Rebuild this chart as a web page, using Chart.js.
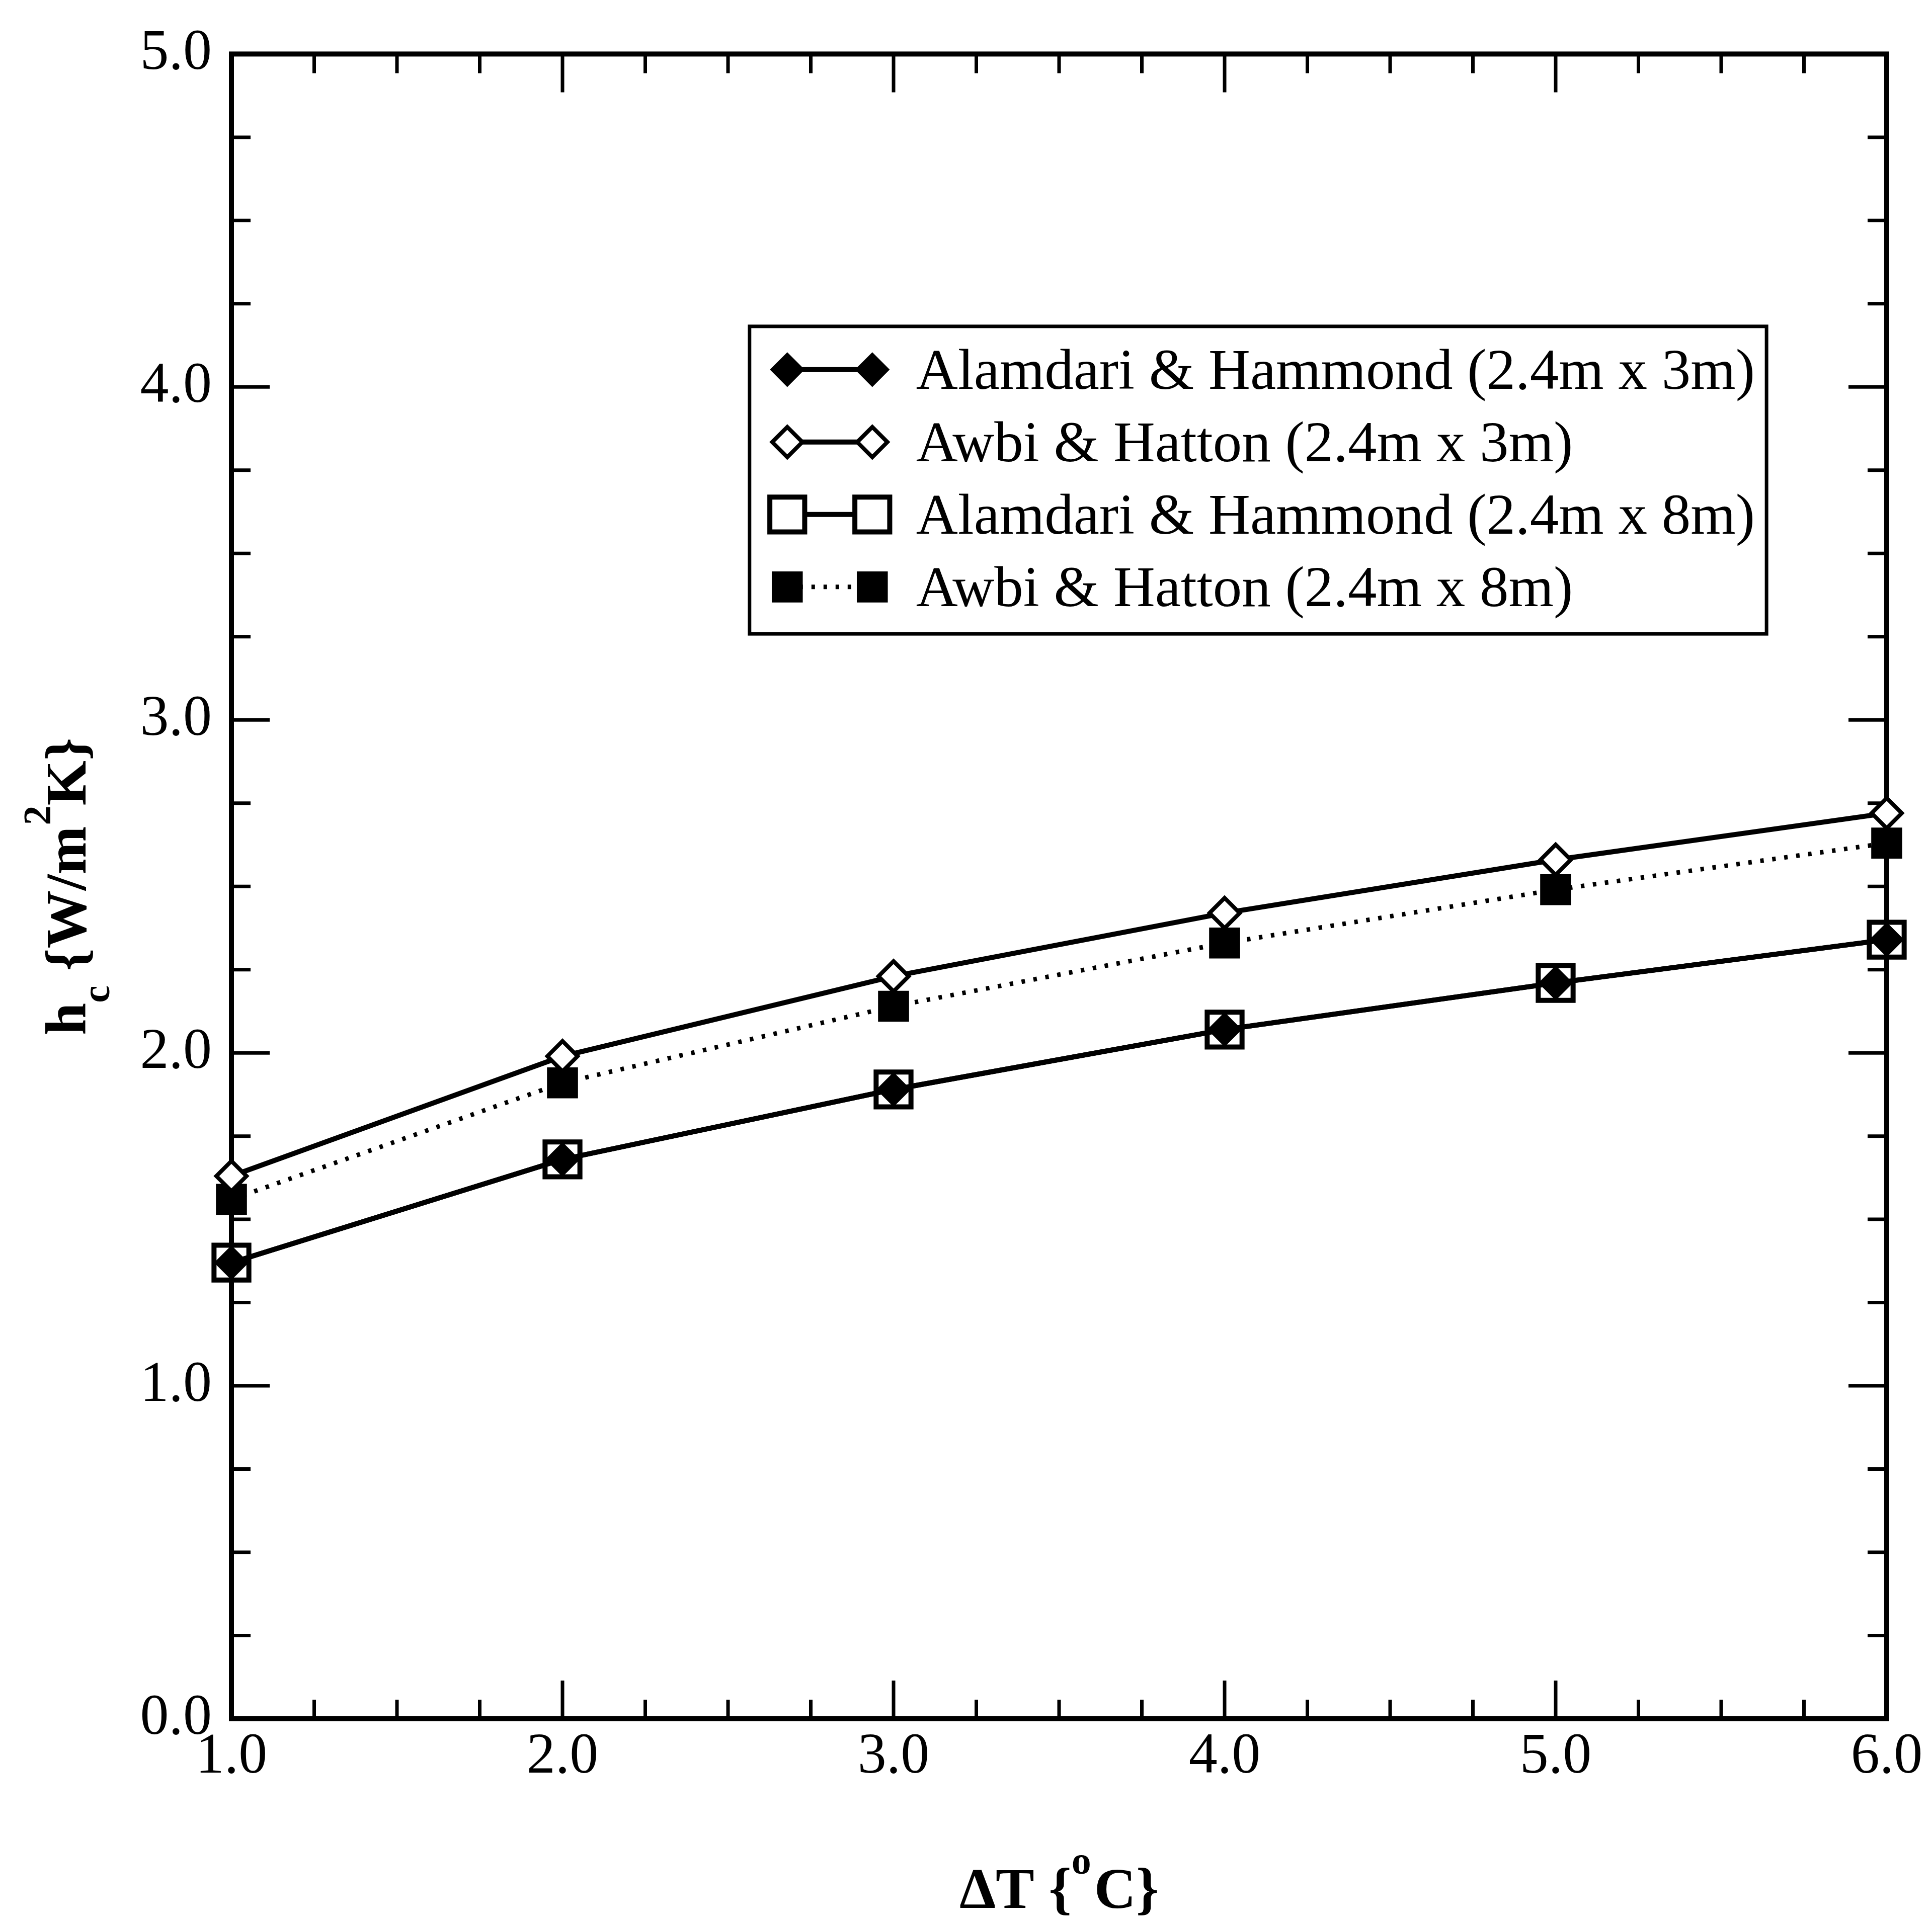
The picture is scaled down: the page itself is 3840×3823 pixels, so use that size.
<!DOCTYPE html>
<html>
<head>
<meta charset="utf-8">
<title>h_c vs delta T</title>
<script src="https://cdn.jsdelivr.net/npm/chart.js@4.4.1/dist/chart.umd.min.js"></script>
<style>
  html, body { margin: 0; padding: 0; background: #fff; }
  #wrap { width: 3840px; height: 3823px; position: relative; }
</style>
</head>
<body>
<div id="wrap"><canvas id="myChart"></canvas></div>
<script>
// du lieu doc tu hinh
var deltaT = [1.0, 2.0, 3.0, 4.0, 5.0, 6.0];
var alamdari3m = [1.37, 1.68, 1.89, 2.07, 2.21, 2.34];
var awbi3m = [1.63, 1.99, 2.23, 2.42, 2.58, 2.72];
var alamdari8m = [1.37, 1.68, 1.89, 2.07, 2.21, 2.34];
var awbi8m = [1.56, 1.91, 2.14, 2.33, 2.49, 2.63];

var seriesNames = [
    'Alamdari & Hammond (2.4m x 3m)',
    'Awbi & Hatton (2.4m x 3m)',
    'Alamdari & Hammond (2.4m x 8m)',
    'Awbi & Hatton (2.4m x 8m)'
];

var xTickValues = [1, 2, 3, 4, 5, 6];
var xTickLabels = ['1.0', '2.0', '3.0', '4.0', '5.0', '6.0'];
var yTickValues = [0, 1, 2, 3, 4, 5];
var yTickLabels = ['0.0', '1.0', '2.0', '3.0', '4.0', '5.0'];

var serif = '"Liberation Serif", "Times New Roman", serif';

function toPoints(arr) {
    return deltaT.map(function (x, i) { return {x: x, y: arr[i]}; });
}

// khung + vach chia huong vao trong, 4 canh
var frameTicks = {
    id: 'frameTicks',
    beforeDatasetsDraw: function (chart) {
        var ctx = chart.ctx, a = chart.chartArea;
        var sx = chart.scales.x, sy = chart.scales.y;
        ctx.save();
        ctx.strokeStyle = '#000';
        ctx.lineWidth = 7;
        ctx.beginPath();
        for (var i = 0; i < xTickValues.length; i++) {
            for (var q = 0; q < 4; q++) {
                var v = xTickValues[i] + q * 0.25;
                if (v > sx.max) break;
                var px = sx.getPixelForValue(v);
                var len = q === 0 ? 76 : 38;
                ctx.moveTo(px, a.bottom); ctx.lineTo(px, a.bottom - len);
                ctx.moveTo(px, a.top); ctx.lineTo(px, a.top + len);
            }
        }
        for (var j = 0; j < yTickValues.length; j++) {
            for (var k = 0; k < 4; k++) {
                var w = yTickValues[j] + k * 0.25;
                if (w > sy.max) break;
                var py = sy.getPixelForValue(w);
                var l2 = k === 0 ? 76 : 38;
                ctx.moveTo(a.left, py); ctx.lineTo(a.left + l2, py);
                ctx.moveTo(a.right, py); ctx.lineTo(a.right - l2, py);
            }
        }
        ctx.stroke();
        ctx.lineWidth = 10;
        ctx.strokeRect(a.left, a.top, a.right - a.left, a.bottom - a.top);
        ctx.restore();
    }
};

function drawMarker(ctx, ds, x, y) {
    var r = ds.pointRadius;
    ctx.beginPath();
    if (ds.pointStyle === 'rectRot') {
        ctx.moveTo(x - r, y); ctx.lineTo(x, y - r); ctx.lineTo(x + r, y); ctx.lineTo(x, y + r);
    } else {
        var s = r * Math.SQRT1_2;
        ctx.rect(x - s, y - s, 2 * s, 2 * s);
    }
    ctx.closePath();
    ctx.fillStyle = ds.pointBackgroundColor;
    ctx.fill();
    ctx.lineWidth = ds.pointBorderWidth;
    ctx.strokeStyle = ds.pointBorderColor;
    ctx.stroke();
}

// chu giai ve tay: 2 diem + doan noi giua
var boxLegend = {
    id: 'boxLegend',
    afterDraw: function (chart) {
        var ctx = chart.ctx, a = chart.chartArea;
        var W = a.right - a.left, H = a.bottom - a.top;
        var bx = a.left + 0.313 * W, by = a.top + 0.1636 * H;
        var bw = 0.6144 * W, bh = 0.1847 * H;
        ctx.save();
        ctx.fillStyle = '#fff';
        ctx.fillRect(bx, by, bw, bh);
        ctx.lineWidth = 7;
        ctx.strokeStyle = '#000';
        ctx.strokeRect(bx, by, bw, bh);
        var dss = chart.data.datasets;
        for (var i = 0; i < dss.length; i++) {
            var ds = dss[i];
            var cy = by + 86 + i * 144;
            var x1 = bx + 75, x2 = bx + 244;
            ctx.beginPath();
            ctx.setLineDash(ds.borderDash || []);
            ctx.lineWidth = ds.borderWidth;
            ctx.strokeStyle = ds.borderColor;
            ctx.moveTo(x1, cy); ctx.lineTo(x2, cy);
            ctx.stroke();
            ctx.setLineDash([]);
            drawMarker(ctx, ds, x1, cy);
            drawMarker(ctx, ds, x2, cy);
            ctx.fillStyle = '#000';
            ctx.font = '115px ' + serif;
            ctx.textBaseline = 'alphabetic';
            ctx.textAlign = 'left';
            ctx.fillText(ds.label, bx + 331, cy + 38);
        }
        ctx.restore();
    }
};

// ve cac doan chu (co chi so tren / duoi)
function drawParts(ctx, parts, x0, y0) {
    var x = x0;
    parts.forEach(function (p) {
        ctx.font = p.font;
        ctx.fillText(p.t, x, y0 + (p.dy || 0));
        x += ctx.measureText(p.t).width + (p.gap || 0);
    });
}
function partsWidth(ctx, parts) {
    var w = 0;
    parts.forEach(function (p) { ctx.font = p.font; w += ctx.measureText(p.t).width + (p.gap || 0); });
    return w;
}

var axisTitles = {
    id: 'axisTitles',
    afterDraw: function (chart) {
        var ctx = chart.ctx, a = chart.chartArea;
        var big = 'bold 115px ' + serif, small = 'bold 78px ' + serif;
        ctx.save();
        ctx.fillStyle = '#000';
        ctx.textBaseline = 'alphabetic';
        ctx.textAlign = 'left';

        var xt = [
            {t: '\u0394T {', font: big},
            {t: 'o', font: small, dy: -68, gap: 6},
            {t: 'C}', font: big}
        ];
        var wx = partsWidth(ctx, xt);
        drawParts(ctx, xt, (a.left + a.right) / 2 - wx / 2, 3793);

        var yt = [
            {t: 'h', font: big},
            {t: 'c', font: small, dy: 47},
            {t: ' {W/m', font: big, gap: 2},
            {t: '2', font: small, dy: -70},
            {t: 'K}', font: big}
        ];
        var wy = partsWidth(ctx, yt);
        ctx.translate(170, (a.top + a.bottom) / 2);
        ctx.rotate(-Math.PI / 2);
        drawParts(ctx, yt, -wy / 2, 0);
        ctx.restore();
    }
};

var chart = new Chart('myChart', {
    type: 'line',
    data: {
        datasets: [{
            label: seriesNames[0],
            data: toPoints(alamdari3m),
            borderColor: '#000',
            borderWidth: 10,
            pointStyle: 'rectRot',
            pointRadius: 31,
            pointBorderWidth: 5,
            pointBackgroundColor: '#000',
            pointBorderColor: '#000'
        }, {
            label: seriesNames[1],
            data: toPoints(awbi3m),
            borderColor: '#000',
            borderWidth: 10,
            pointStyle: 'rectRot',
            pointRadius: 30,
            pointBorderWidth: 8,
            pointBackgroundColor: '#fff',
            pointBorderColor: '#000'
        }, {
            label: seriesNames[2],
            data: toPoints(alamdari8m),
            borderColor: '#000',
            borderWidth: 10,
            pointStyle: 'rect',
            pointRadius: 49,
            pointBorderWidth: 10,
            pointBackgroundColor: '#fff',
            pointBorderColor: '#000'
        }, {
            label: seriesNames[3],
            data: toPoints(awbi8m),
            borderColor: '#000',
            borderWidth: 9,
            borderDash: [7, 17],
            pointStyle: 'rect',
            pointRadius: 40,
            pointBorderWidth: 5,
            pointBackgroundColor: '#000',
            pointBorderColor: '#000'
        }]
    },
    options: {
        responsive: true,
        maintainAspectRatio: false,
        animation: false,
        events: [],
        devicePixelRatio: 1,
        layout: {padding: {left: 0, right: 90, top: 104, bottom: 0}},
        elements: {line: {tension: 0, fill: false}},
        datasets: {line: {clip: false}},
        scales: {
            x: {
                type: 'linear',
                min: 1, max: 6,
                grid: {display: false, drawTicks: false},
                border: {display: false},
                afterBuildTicks: function (s) { s.ticks = xTickValues.map(function (v) { return {value: v}; }); },
                afterFit: function (s) { s.height = 406; },
                ticks: {
                    color: '#000',
                    padding: 9,
                    maxRotation: 0,
                    font: {family: serif, size: 114},
                    callback: function (v, i) { return xTickLabels[i]; }
                }
            },
            y: {
                type: 'linear',
                min: 0, max: 5,
                grid: {display: false, drawTicks: false},
                border: {display: false},
                afterBuildTicks: function (s) { s.ticks = yTickValues.map(function (v) { return {value: v}; }); },
                afterFit: function (s) { s.width = 460; },
                ticks: {
                    color: '#000',
                    padding: 39,
                    font: {family: serif, size: 114},
                    callback: function (v, i) { return yTickLabels[i]; }
                }
            }
        },
        plugins: {
            legend: {display: false},
            tooltip: {enabled: false},
            title: {display: false}
        }
    },
    plugins: [frameTicks, boxLegend, axisTitles]
});
</script>
</body>
</html>
